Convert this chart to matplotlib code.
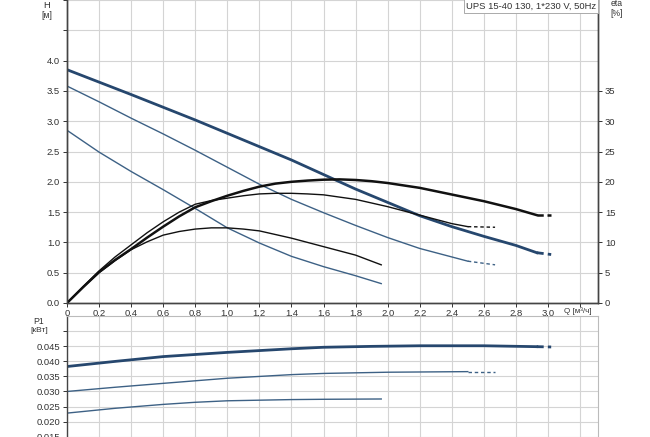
import matplotlib
matplotlib.use("Agg")
import matplotlib.pyplot as plt

plt.rcParams['font.family'] = ['Liberation Sans', 'DejaVu Sans']

# ---- data ----
q_h3 = [0, 0.4, 0.8, 1.2, 1.4, 1.6, 1.8, 2.0, 2.2, 2.4, 2.6, 2.8, 2.93]
h3 = [3.85, 3.44, 3.02, 2.58, 2.36, 2.12, 1.88, 1.66, 1.44, 1.26, 1.10, 0.95, 0.83]
q_h3_ext = [2.93, 3.02]
h3_ext = [0.83, 0.80]

q_h2 = [0, 0.2, 0.4, 0.6, 0.8, 1.0, 1.2, 1.4, 1.6, 1.8, 2.0, 2.2, 2.4, 2.5]
h2 = [3.58, 3.32, 3.05, 2.79, 2.52, 2.24, 1.96, 1.71, 1.49, 1.28, 1.08, 0.90, 0.76, 0.69]
q_h2_ext = [2.5, 2.67]
h2_ext = [0.69, 0.63]

q_h1 = [0, 0.2, 0.4, 0.6, 0.8, 1.0, 1.2, 1.4, 1.6, 1.8, 1.96]
h1 = [2.85, 2.49, 2.17, 1.87, 1.56, 1.24, 0.99, 0.77, 0.60, 0.45, 0.32]

q_e3 = [0, 0.1, 0.2, 0.3, 0.4, 0.5, 0.6, 0.7, 0.8, 0.9, 1.0, 1.1, 1.2, 1.3, 1.4, 1.5,
        1.6, 1.7, 1.8, 1.9, 2.0, 2.1, 2.2, 2.4, 2.6, 2.8, 2.93]
e3 = [0, 2.6, 5.1, 7.1, 8.9, 10.8, 12.6, 14.3, 15.8, 16.8, 17.7, 18.5, 19.2, 19.7, 20.0, 20.2,
      20.35, 20.4, 20.3, 20.1, 19.8, 19.4, 19.0, 17.9, 16.8, 15.5, 14.5]
q_e3_ext = [2.93, 3.02]
e3_ext = [14.5, 14.5]

q_e2 = [0, 0.1, 0.2, 0.3, 0.4, 0.5, 0.6, 0.7, 0.8, 0.9, 1.0, 1.1, 1.2, 1.3, 1.4, 1.5,
        1.6, 1.8, 2.0, 2.2, 2.4, 2.5]
e2 = [0, 2.7, 5.3, 7.6, 9.6, 11.6, 13.4, 15.0, 16.3, 16.9, 17.3, 17.7, 18.0, 18.1, 18.1, 18.0,
      17.85, 17.1, 15.9, 14.5, 13.1, 12.6]
q_e2_ext = [2.5, 2.67]
e2_ext = [12.6, 12.5]

q_e1 = [0, 0.1, 0.2, 0.3, 0.4, 0.5, 0.6, 0.7, 0.8, 0.9, 1.0, 1.1, 1.2, 1.4, 1.6, 1.8, 1.96]
e1 = [0, 2.6, 5.0, 7.0, 8.8, 10.1, 11.2, 11.8, 12.2, 12.4, 12.4, 12.2, 11.9, 10.7, 9.3, 7.9, 6.3]

q_p3 = [0, 0.3, 0.6, 1.0, 1.4, 1.6, 1.9, 2.2, 2.6, 2.93]
p3 = [0.0383, 0.0400, 0.0416, 0.0430, 0.0442, 0.0447, 0.0450, 0.0452, 0.0452, 0.0449]
q_p3_ext = [2.93, 3.02]
p3_ext = [0.0449, 0.0448]

q_p2 = [0, 0.3, 0.6, 1.0, 1.4, 1.6, 2.0, 2.5]
p2 = [0.0300, 0.0314, 0.0327, 0.0344, 0.0356, 0.0360, 0.0364, 0.0366]
q_p2_ext = [2.5, 2.67]
p2_ext = [0.0366, 0.0366]

q_p1 = [0, 0.3, 0.6, 0.8, 1.0, 1.4, 1.6, 1.96]
p1 = [0.0228, 0.0244, 0.0257, 0.0264, 0.0269, 0.0273, 0.0274, 0.0275]

x_ticks = [0, 0.2, 0.4, 0.6, 0.8, 1.0, 1.2, 1.4, 1.6, 1.8, 2.0, 2.2, 2.4, 2.6, 2.8, 3.0]
h_ticks = [0.0, 0.5, 1.0, 1.5, 2.0, 2.5, 3.0, 3.5, 4.0]
eta_ticks = [0, 5, 10, 15, 20, 25, 30, 35]
p_ticks = [0.015, 0.020, 0.025, 0.030, 0.035, 0.040, 0.045]
title = "UPS 15-40 130, 1*230 V, 50Hz"

# ---- styles ----
BLUE_T = '#26476e'
BLUE = '#3d6185'
BLACK = '#111111'
GRID = '#d4d4d4'
SPINE = '#444444'
TXT = '#333333'
FS = 6.8

W, H = 650, 437
fig = plt.figure(figsize=(W / 100, H / 100), dpi=100)
L = 67 / W
WID = (598 - 67) / W
XMAX = 3.312
grid_x = x_ticks + [3.2]

ax = fig.add_axes([L, 1 - 303 / H, WID, 303 / H])
ax.set_xlim(0, XMAX)
ax.set_ylim(0, 5.0)
axe = ax.twinx()
axe.set_ylim(0, 50)

ax.set_xticks(grid_x)
ax.set_xticklabels([("%.1f" % v).replace('.', ',') if v > 0 else '0' for v in x_ticks] + [''])
ax.set_yticks(h_ticks + [4.5, 5.0])
ax.set_yticklabels(["%.1f" % v for v in h_ticks] + ['', ''])
axe.set_yticks(eta_ticks)
axe.set_yticklabels([str(v) for v in eta_ticks])

ax.grid(True, color=GRID, lw=0.8)
ax.set_axisbelow(True)
for a in (ax, axe):
    a.tick_params(labelsize=FS, colors=TXT, length=3, width=0.7, pad=2)
    a.spines['top'].set_visible(False)
    for s in ('left', 'right', 'bottom'):
        a.spines[s].set_color(SPINE)
        a.spines[s].set_linewidth(1.0)
ax.tick_params(axis='x', length=3, pad=1.5)

# QH curves
ax.plot(q_h3, h3, color=BLUE_T, lw=2.0)
ax.plot(q_h3_ext, h3_ext, color=BLUE_T, lw=2.0, ls=(0, (2.5, 1.5)))
ax.plot(q_h2, h2, color=BLUE, lw=1.0)
ax.plot(q_h2_ext, h2_ext, color=BLUE, lw=1.0, ls=(0, (2.5, 2)))
ax.plot(q_h1, h1, color=BLUE, lw=1.0)
# eta curves
axe.plot(q_e3, e3, color=BLACK, lw=1.8)
axe.plot(q_e3_ext, e3_ext, color=BLACK, lw=1.8, ls=(0, (2.5, 1.5)))
axe.plot(q_e2, e2, color=BLACK, lw=1.0)
axe.plot(q_e2_ext, e2_ext, color=BLACK, lw=1.0, ls=(0, (2.5, 2)))
axe.plot(q_e1, e1, color=BLACK, lw=1.0)

fig.text(47 / W, 1 - 5 / H, "H", fontsize=FS, ha='center', va='center', color=TXT)
fig.text(47 / W, 1 - 15 / H, "[м]", fontsize=FS - 0.6, ha='center', va='center', color=TXT)
fig.text(617 / W, 1 - 4 / H, "eta", fontsize=FS - 0.6, ha='center', va='center', color=TXT)
fig.text(617 / W, 1 - 14 / H, "[%]", fontsize=FS - 0.6, ha='center', va='center', color=TXT)
fig.text(578 / W, 1 - 311 / H, "Q [м³/ч]", fontsize=FS - 1.0, ha='center', va='center', color=TXT)
fig.text(596 / W, 1 - 6 / H, title, fontsize=FS, ha='right', va='center', color=TXT,
         bbox=dict(boxstyle='square,pad=0.25', fc='white', ec='#aaaaaa', lw=0.7))

# ---- power axes ----
PTOP = 316
PBOT = 451
axp = fig.add_axes([L, 1 - PBOT / H, WID, (PBOT - PTOP) / H])
axp.set_xlim(0, XMAX)
axp.set_ylim(0.0102, 0.0551)
axp.set_xticks(grid_x)
axp.set_xticklabels([])
axp.set_yticks(p_ticks + [0.050])
axp.set_yticklabels(["%.3f" % v for v in p_ticks] + [''])
axp.grid(True, color=GRID, lw=0.8)
axp.set_axisbelow(True)
axp.tick_params(labelsize=FS, colors=TXT, length=3, width=0.7, pad=2)
axp.tick_params(axis='x', length=0)
axp.spines['left'].set_color(SPINE)
axp.spines['left'].set_linewidth(1.0)
for s in ('top', 'right', 'bottom'):
    axp.spines[s].set_color('#bbbbbb')
    axp.spines[s].set_linewidth(0.8)

axp.plot(q_p3, p3, color=BLUE_T, lw=2.0)
axp.plot(q_p3_ext, p3_ext, color=BLUE_T, lw=2.0, ls=(0, (2.5, 1.5)))
axp.plot(q_p2, p2, color=BLUE, lw=1.0)
axp.plot(q_p2_ext, p2_ext, color=BLUE, lw=1.0, ls=(0, (2.5, 2)))
axp.plot(q_p1, p1, color=BLUE, lw=1.0)

fig.text(39 / W, 1 - 321 / H, "P1", fontsize=FS - 0.6, ha='center', va='center', color=TXT)
fig.text(39 / W, 1 - 330 / H, "[кВт]", fontsize=FS - 0.8, ha='center', va='center', color=TXT)

fig.savefig("out.png", dpi=100)
